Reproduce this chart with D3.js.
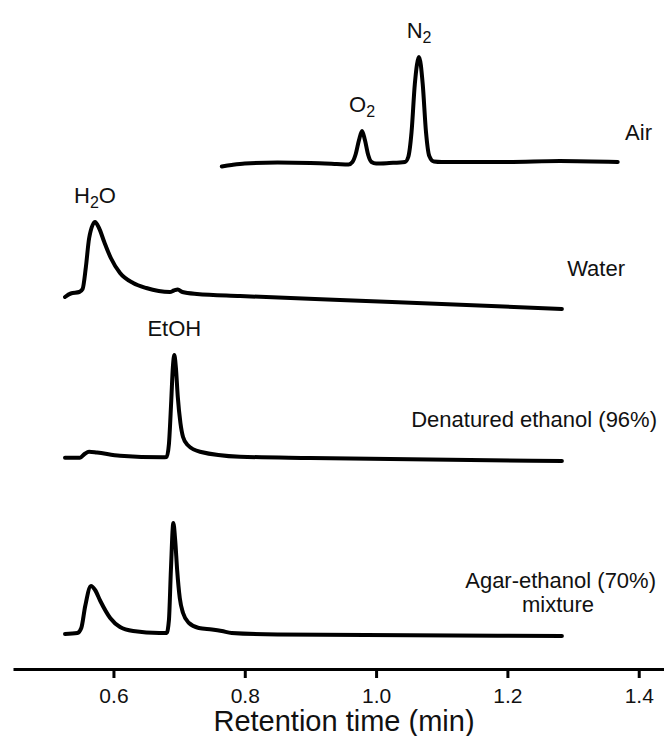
<!DOCTYPE html>
<html>
<head>
<meta charset="utf-8">
<script src="https://cdn.jsdelivr.net/npm/d3@7"></script>
<style>
  html, body { margin: 0; padding: 0; background: #fff; }
  svg { display: block; font-family: Arial, "Liberation Sans", sans-serif; }
  .trace { fill: none; stroke: #000; stroke-width: 4; stroke-linejoin: round; stroke-linecap: round; }
  .lbl { font-size: 22px; fill: #111; }
</style>
</head>
<body>
<svg id="chart" width="664" height="736"></svg>
<script>
// retention time (min), detector signal (arbitrary units above each trace's own baseline)
const airTrace = [
  [0.765, -4.5], [0.78, -3], [0.80, -1.5], [0.85, -0.5], [0.90, -1], [0.94, -2], [0.958, -2.5],
  [0.964, 0], [0.969, 8], [0.974, 22], [0.9786, 31], [0.983, 22], [0.988, 7], [0.993, 0],
  [1.00, -1.5], [1.02, -1], [1.044, 0], [1.049, 5], [1.054, 30], [1.059, 78], [1.0654, 105],
  [1.071, 78], [1.076, 30], [1.081, 6], [1.088, 0.5], [1.10, 0], [1.20, 0], [1.28, 1], [1.368, 0]
];
const waterTrace = [
  [0.5262, 3], [0.535, 6.5], [0.548, 8], [0.553, 11], [0.558, 33], [0.563, 62], [0.5719, 78],
  [0.578, 72], [0.586, 58], [0.596, 42], [0.610, 27], [0.630, 17], [0.650, 12], [0.686, 8],
  [0.692, 9.5], [0.698, 10.5], [0.705, 8], [0.727, 6], [0.793, 4], [0.945, 0], [1.10, -4], [1.283, -9]
];
const ethanolTrace = [
  [0.5262, 1.3], [0.549, 1.3], [0.556, 5], [0.5628, 7.3], [0.575, 6.5], [0.61, 3.3], [0.675, 1.7],
  [0.681, 2], [0.6845, 15], [0.688, 58], [0.6905, 92], [0.6927, 104], [0.695, 92], [0.698, 62],
  [0.702, 36], [0.706, 22], [0.713, 14], [0.7318, 7.3], [0.7928, 2.3], [0.90, 1], [1.283, -2]
];
const agarTrace = [
  [0.5262, 2], [0.545, 3], [0.551, 8], [0.557, 30], [0.5658, 50], [0.572, 46], [0.580, 35],
  [0.595, 18], [0.610, 9], [0.630, 5], [0.670, 3], [0.681, 3], [0.6845, 16], [0.6875, 66],
  [0.6912, 113], [0.694, 96], [0.697, 66], [0.701, 38], [0.706, 23], [0.715, 13], [0.730, 8],
  [0.750, 6.5], [0.765, 5], [0.78, 3], [0.85, 1.5], [1.283, 0]
];

const traceNames = ["Air", "Water", "Denatured ethanol (96%)", "Agar-ethanol (70%) mixture"];
const traceOffsets = [507, 369, 210, 33];   // vertical stacking offsets, signal units
const tickValues = [0.6, 0.8, 1.0, 1.2, 1.4];
const peakNames = [
  { name: "N", sub: "2", after: "", trace: 0, t: 1.0654 },
  { name: "O", sub: "2", after: "", trace: 0, t: 0.9786 },
  { name: "H", sub: "2", after: "O", trace: 1, t: 0.5719 },
  { name: "EtOH", sub: "", after: "", trace: 2, t: 0.6927 }
];

const traces = [airTrace, waterTrace, ethanolTrace, agarTrace];

const svg = d3.select('#chart');
const x = d3.scaleLinear().domain([0.447, 1.4385]).range([13, 664]);
const y = d3.scaleLinear().domain([0, 650]).range([669, 19]);

const line = d3.line()
  .x((d) => x(d[0]))
  .y((d) => y(d[1]))
  .curve(d3.curveMonotoneX);

svg.append('g')
  .selectAll('path.trace')
  .data(traces.map((tr, i) => tr.map((p) => [p[0], p[1] + traceOffsets[i]])))
  .join('path')
  .attr('class', 'trace')
  .attr('d', line);

// peak labels, sitting just above the local maximum
peakNames.forEach((p) => {
  const near = traces[p.trace].filter((d) => Math.abs(d[0] - p.t) < 0.01);
  const top = d3.max(near, (d) => d[1]) + traceOffsets[p.trace];
  const t = svg.append('text')
    .attr('class', 'lbl')
    .attr('x', x(p.t))
    .attr('y', y(top) - 19)
    .attr('text-anchor', 'middle');
  t.append('tspan').text(p.name);
  if (p.sub) t.append('tspan').attr('font-size', 16).attr('dy', 5).text(p.sub);
  if (p.after) t.append('tspan').attr('dy', -5).text(p.after);
});

// trace names on the right
const nameSpots = [
  { x: 652, y: 140 },
  { x: 625, y: 276 },
  { x: 657, y: 427 }
];
nameSpots.forEach((s, i) => {
  svg.append('text').attr('class', 'lbl')
    .attr('x', s.x).attr('y', s.y).attr('text-anchor', 'end')
    .text(traceNames[i]);
});
const agarLbl = traceNames[3].split(' mixture');
svg.append('text').attr('class', 'lbl').attr('x', 656).attr('y', 588).attr('text-anchor', 'end').text(agarLbl[0]);
svg.append('text').attr('class', 'lbl').attr('x', 558).attr('y', 612).attr('text-anchor', 'middle').text('mixture');

// x axis
const ax = svg.append('g')
  .attr('transform', 'translate(0,669)')
  .call(d3.axisBottom(x).tickValues(tickValues).tickFormat(d3.format('.1f')).tickSize(9).tickSizeOuter(0).tickPadding(10));
ax.select('.domain').attr('stroke', '#000').attr('stroke-width', 3);
ax.selectAll('.tick line').attr('stroke', '#000').attr('stroke-width', 3);
ax.selectAll('.tick text').attr('font-size', 21).attr('fill', '#111').attr('font-family', null);

svg.append('text')
  .attr('x', 344)
  .attr('y', 731)
  .attr('text-anchor', 'middle')
  .attr('font-size', 29)
  .attr('fill', '#111')
  .text('Retention time (min)');
</script>
</body>
</html>
